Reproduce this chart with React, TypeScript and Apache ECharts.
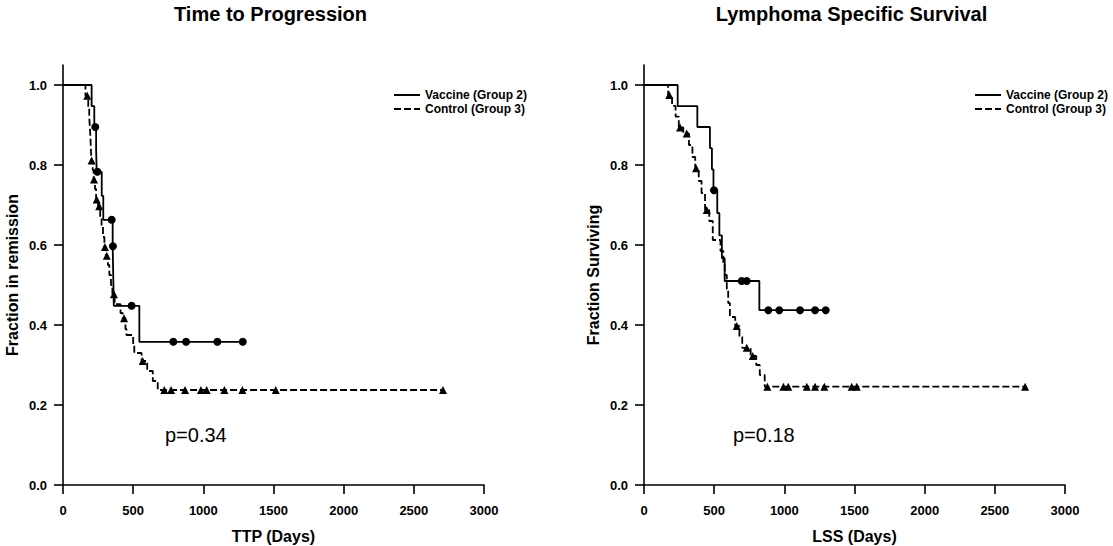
import React, { useEffect, useRef } from "react";
import * as echarts from "echarts";

// ---- Data (days, fraction) ----
const xTicks = [0, 500, 1000, 1500, 2000, 2500, 3000];
const yTicks = [0, 0.2, 0.4, 0.6, 0.8, 1.0];

const panelTitles = ["Time to Progression", "Lymphoma Specific Survival"];
const xNames = ["TTP (Days)", "LSS (Days)"];
const yNames = ["Fraction in remission", "Fraction Surviving"];
const pValues = ["p=0.34", "p=0.18"];
const groupNames = ["Vaccine (Group 2)", "Control (Group 3)"];

// Time to progression – vaccine (step points) and censor marks
const vacTTP = [
  [0, 1], [204, 0.947], [223, 0.895], [236, 0.839], [240, 0.783], [276, 0.723],
  [287, 0.663], [354, 0.597], [358, 0.522], [362, 0.448], [544, 0.358], [1297, 0.358],
];
const vacTTPCens = [
  [230, 0.895], [245, 0.783], [347, 0.663], [356, 0.597], [489, 0.448],
  [786, 0.358], [877, 0.358], [1100, 0.358], [1281, 0.358],
];
// Time to progression – control
const ctlTTP = [
  [0, 1], [160, 0.973], [180, 0.946], [187, 0.919], [192, 0.892], [196, 0.865],
  [199, 0.838], [202, 0.811], [212, 0.787], [218, 0.764], [228, 0.74], [236, 0.714],
  [250, 0.697], [265, 0.67], [275, 0.645], [285, 0.62], [295, 0.595], [305, 0.573],
  [320, 0.55], [330, 0.525], [342, 0.5], [352, 0.477], [368, 0.452], [410, 0.43],
  [425, 0.417], [445, 0.39], [452, 0.375], [500, 0.35], [508, 0.33], [560, 0.31],
  [600, 0.285], [640, 0.26], [675, 0.2375], [2708, 0.2375],
];
const ctlTTPCens = [
  [173, 0.973], [204, 0.811], [221, 0.764], [240, 0.714], [258, 0.697], [299, 0.595],
  [312, 0.573], [363, 0.477], [435, 0.417], [568, 0.31], [722, 0.2375], [770, 0.2375],
  [870, 0.2375], [983, 0.2375], [1024, 0.2375], [1150, 0.2375], [1278, 0.2375],
  [1516, 0.2375], [2708, 0.2375],
];

// Lymphoma specific survival – vaccine
const vacLSS = [
  [0, 1], [240, 0.947], [380, 0.895], [470, 0.842], [484, 0.789], [495, 0.737],
  [522, 0.68], [537, 0.624], [555, 0.567], [575, 0.51], [822, 0.437], [1302, 0.437],
];
const vacLSSCens = [
  [499, 0.737], [696, 0.51], [732, 0.51], [886, 0.437], [964, 0.437],
  [1112, 0.437], [1219, 0.437], [1295, 0.437],
];
// Lymphoma specific survival – control
const ctlLSS = [
  [0, 1], [172, 0.975], [200, 0.948], [225, 0.921], [248, 0.894], [280, 0.879],
  [320, 0.85], [345, 0.82], [365, 0.792], [390, 0.76], [410, 0.73], [435, 0.6875],
  [465, 0.66], [490, 0.6125], [545, 0.585], [565, 0.555], [575, 0.525], [590, 0.49],
  [600, 0.455], [612, 0.42], [650, 0.3975], [680, 0.37], [700, 0.343], [760, 0.3225],
  [800, 0.3], [825, 0.275], [860, 0.2458], [2716, 0.2458],
];
const ctlLSSCens = [
  [180, 0.975], [257, 0.894], [304, 0.879], [371, 0.792], [447, 0.6875],
  [661, 0.3975], [732, 0.343], [775, 0.3225], [879, 0.2458], [993, 0.2458],
  [1028, 0.2458], [1160, 0.2458], [1219, 0.2458], [1285, 0.2458], [1480, 0.2458],
  [1516, 0.2458], [2716, 0.2458],
];

const panels = [
  { vac: vacTTP, vacC: vacTTPCens, ctl: ctlTTP, ctlC: ctlTTPCens },
  { vac: vacLSS, vacC: vacLSSCens, ctl: ctlLSS, ctlC: ctlLSSCens },
];

const FONT = "'Liberation Sans', Arial, Helvetica, sans-serif";

export default function App() {
  const ref = useRef<HTMLDivElement>(null);

  useEffect(() => {
    if (!ref.current) return;
    const chart = echarts.init(ref.current, null, { renderer: "svg" });

    const gridLefts = [63, 644];
    const gridW = 421;
    const gridTop = 65;
    const gridH = 420;
    const yOne = 85; // pixel of 1.0
    const tickLen = 9;

    const axisLine = () => ({ show: true, onZero: false, lineStyle: { color: "#000", width: 1.6 } });
    const labelStyle = { color: "#000", fontWeight: "bold" as const, fontSize: 13, fontFamily: FONT };
    const nameStyle = { color: "#000", fontWeight: "bold" as const, fontSize: 16, fontFamily: FONT };
    const tickSplit = { show: true, lineStyle: { color: "#000", width: 1.6, type: "solid" } };
    const hidden = { show: false };
    const gridBase = { containLabel: false, outerBoundsMode: "none" };

    const grids: any[] = [];
    const xAxes: any[] = [];
    const yAxes: any[] = [];
    const series: any[] = [];

    // main grids 0,1
    gridLefts.forEach((l, i) => {
      grids.push({ ...gridBase, left: l, top: gridTop, width: gridW, height: gridH });
      xAxes.push({
        type: "value", gridIndex: i, min: 0, max: 3000, interval: 500,
        name: xNames[i], nameLocation: "middle", nameGap: 43, nameTextStyle: nameStyle,
        axisLine: axisLine(), axisTick: hidden,
        axisLabel: { show: true, ...labelStyle, margin: 19, formatter: (v: number) => String(v) },
        splitLine: hidden,
      });
      yAxes.push({
        type: "value", gridIndex: i, min: 0, max: 1.05, interval: 0.2,
        name: yNames[i], nameLocation: "middle", nameGap: 43, nameTextStyle: nameStyle,
        axisLine: axisLine(), axisTick: hidden,
        axisLabel: {
          show: true, ...labelStyle, margin: 16, showMaxLabel: false,
          formatter: (v: number) => (Math.abs(v * 5 - Math.round(v * 5)) < 1e-6 ? v.toFixed(1) : ""),
        },
        splitLine: hidden,
      });
    });
    // tick-mark grids: x ticks (2,3) and y ticks (4,5)
    gridLefts.forEach((l) => {
      const gi = grids.length;
      grids.push({ ...gridBase, left: l, top: gridTop + gridH, width: gridW, height: tickLen });
      xAxes.push({
        type: "value", gridIndex: gi, min: 0, max: 3000, interval: 500,
        axisLine: hidden, axisTick: hidden, axisLabel: hidden, splitLine: tickSplit,
      });
      yAxes.push({
        type: "value", gridIndex: gi, min: 0, max: 1,
        axisLine: hidden, axisTick: hidden, axisLabel: hidden, splitLine: hidden,
      });
    });
    gridLefts.forEach((l) => {
      const gi = grids.length;
      grids.push({ ...gridBase, left: l - tickLen, top: yOne, width: tickLen, height: gridTop + gridH - yOne });
      xAxes.push({
        type: "value", gridIndex: gi, min: 0, max: 1,
        axisLine: hidden, axisTick: hidden, axisLabel: hidden, splitLine: hidden,
      });
      yAxes.push({
        type: "value", gridIndex: gi, min: 0, max: 1, interval: 0.2,
        axisLine: hidden, axisTick: hidden, axisLabel: hidden, splitLine: tickSplit,
      });
    });

    panels.forEach((p, i) => {
      series.push({
        type: "line", name: groupNames[0], xAxisIndex: i, yAxisIndex: i,
        data: p.vac, step: "end", symbol: "none", showSymbol: false,
        lineStyle: { color: "#000", width: 1.8, type: "solid" }, itemStyle: { color: "#000" },
      });
      series.push({
        type: "line", name: groupNames[1], xAxisIndex: i, yAxisIndex: i,
        data: p.ctl, step: "end", symbol: "none", showSymbol: false,
        lineStyle: { color: "#000", width: 1.8, type: [7, 3] }, itemStyle: { color: "#000" },
      });
      series.push({
        type: "scatter", name: "vac-cens-" + i, xAxisIndex: i, yAxisIndex: i,
        data: p.vacC, symbol: "circle", symbolSize: 8, itemStyle: { color: "#000", opacity: 1 },
      });
      series.push({
        type: "scatter", name: "ctl-cens-" + i, xAxisIndex: i, yAxisIndex: i,
        data: p.ctlC, symbol: "triangle", symbolSize: 8, itemStyle: { color: "#000", opacity: 1 },
      });
    });

    const option: any = {
      animation: false,
      backgroundColor: "#fff",
      textStyle: { fontFamily: FONT },
      title: panelTitles.map((t, i) => ({
        text: t,
        left: gridLefts[i] + gridW / 2 - 3,
        top: 4,
        padding: 0,
        textAlign: "center",
        textStyle: { color: "#000", fontWeight: "bold", fontSize: 20, fontFamily: FONT },
      })),
      legend: [0, 1].map((i) => ({
        data: groupNames,
        orient: "vertical",
        left: i === 0 ? 393 : 974,
        top: 89,
        padding: 0,
        itemWidth: 26,
        itemHeight: 10,
        itemGap: 2,
        selectedMode: false,
        itemStyle: { opacity: 0 },
        textStyle: { color: "#000", fontWeight: "bold", fontSize: 12, fontFamily: FONT },
      })),
      grid: grids,
      xAxis: xAxes,
      yAxis: yAxes,
      graphic: pValues.map((t, i) => ({
        type: "text",
        left: i === 0 ? 165 : 733,
        top: 425,
        style: { text: t, fill: "#000", font: "20px " + FONT },
      })),
      series,
    };

    chart.setOption(option);
    return () => chart.dispose();
  }, []);

  return (
    <div
      ref={ref}
      style={{ position: "fixed", left: 0, top: 0, width: 1113, height: 546, background: "#fff" }}
    />
  );
}
